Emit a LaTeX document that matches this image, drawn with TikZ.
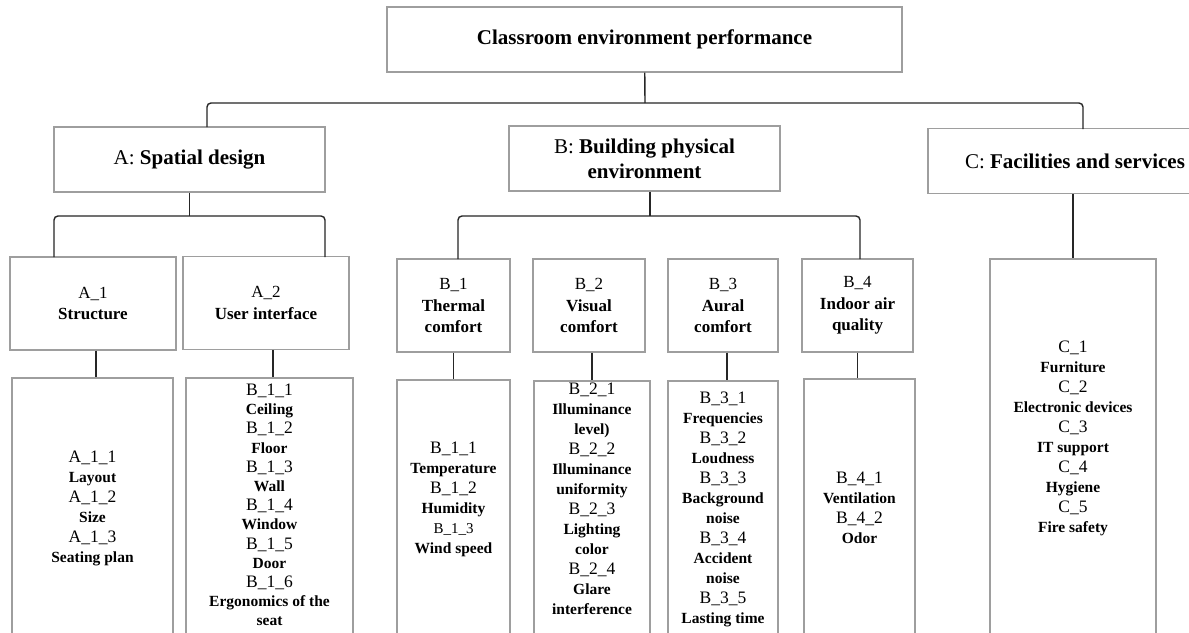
\documentclass[tikz,border=0pt]{standalone}
\usepackage{fontspec}
\setmainfont{Liberation Serif}
\usepackage{tikz}

\newcommand{\lab}[1]{{\fontsize{15.5}{20}\selectfont\bfseries #1}}

\begin{document}
\begin{tikzpicture}[
  x=1pt, y=-1pt,
  every node/.style={inner sep=0pt, align=center},
  box/.style={draw=black!38, line width=1.4pt, fill=white},
  rootbox/.style={box, minimum width=515pt, minimum height=65pt, font=\fontsize{21}{25}\selectfont\bfseries},
  cat/.style={box, minimum width=271pt, minimum height=65pt, font=\fontsize{21}{25}\selectfont},
  sub/.style={box, minimum height=93pt, font=\fontsize{17}{21.5}\selectfont},
  leaf/.style={box, minimum height=300pt},
  items/.style={font=\fontsize{17.5}{20}\selectfont},
  link/.style={draw=black!85, line width=1.4pt}]
  \useasboundingbox (0,0) rectangle (1189,632);
  \clip (0,0) rectangle (1189,632);
  \fill[white] (0,0) rectangle (1189,632);
  % root and categories
  \node[rootbox] (root) at (644.5,39.5) {Classroom environment performance};
  \node[cat] (A) at (189.5,159.5) {A: \textbf{Spatial design}};
  \node[cat] (B) at (644.5,158.5) {B: \textbf{Building physical}\\\textbf{environment}};
  \node[cat, minimum width=294pt] (C) at (1075,161) {C: \textbf{Facilities and services}};
  % sub-criteria
  \node[sub, minimum width=166pt] (A1) at (93,303.5) {A\_1\\\textbf{Structure}};
  \node[sub, minimum width=166pt] (A2) at (266,303) {A\_2\\\textbf{User interface}};
  \node[sub, minimum width=113pt] (B1) at (453.5,305.5) {B\_1\\\textbf{Thermal}\\\textbf{comfort}};
  \node[sub, minimum width=112pt] (B2) at (589,305.5) {B\_2\\\textbf{Visual}\\\textbf{comfort}};
  \node[sub, minimum width=110pt] (B3) at (723,305.5) {B\_3\\\textbf{Aural}\\\textbf{comfort}};
  \node[sub, minimum width=111pt] (B4) at (857.5,305.5) {B\_4\\\textbf{Indoor air}\\\textbf{quality}};
  % indicator boxes (cut by the lower edge)
  \node[leaf, minimum width=161pt] (A1l) at (92.5,528) {};
  \node[leaf, minimum width=167pt] (A2l) at (269.5,528) {};
  \node[leaf, minimum width=113pt] (B1l) at (453.5,530) {};
  \node[leaf, minimum width=116pt] (B2l) at (592,531) {};
  \node[leaf, minimum width=110pt] (B3l) at (723,531) {};
  \node[leaf, minimum width=111pt] (B4l) at (859.5,529) {};
  \node[leaf, minimum width=166pt, minimum height=400pt] (Cl) at (1073,459) {};
  % indicators
  \node[items] (A1t) at (92.5,508) {A\_1\_1\\\lab{Layout}\\A\_1\_2\\\lab{Size}\\A\_1\_3\\\lab{Seating plan}};
  \node[items, font=\fontsize{17.5}{19.2}\selectfont] (A2t) at (269.5,505) {B\_1\_1\\\lab{Ceiling}\\B\_1\_2\\\lab{Floor}\\B\_1\_3\\\lab{Wall}\\B\_1\_4\\\lab{Window}\\B\_1\_5\\\lab{Door}\\B\_1\_6\\\lab{Ergonomics of the}\\\lab{seat}};
  \node[items] (B1t) at (453.5,499) {B\_1\_1\\\lab{Temperature}\\B\_1\_2\\\lab{Humidity}\\{\fontsize{15}{20}\selectfont B\_1\_3}\\\lab{Wind speed}};
  \node[items] (B2t) at (592,498.5) {B\_2\_1\\\lab{Illuminance}\\\lab{level)}\\B\_2\_2\\\lab{Illuminance}\\\lab{uniformity}\\B\_2\_3\\\lab{Lighting}\\\lab{color}\\B\_2\_4\\\lab{Glare}\\\lab{interference}};
  \node[items] (B3t) at (723,509.5) {B\_3\_1\\\lab{Frequencies}\\B\_3\_2\\\lab{Loudness}\\B\_3\_3\\\lab{Background}\\\lab{noise}\\B\_3\_4\\\lab{Accident}\\\lab{noise}\\B\_3\_5\\\lab{Lasting time}};
  \node[items] (B4t) at (859.5,508) {B\_4\_1\\\lab{Ventilation}\\B\_4\_2\\\lab{Odor}};
  \node[items] (Ct) at (1073,438) {C\_1\\\lab{Furniture}\\C\_2\\\lab{Electronic devices}\\C\_3\\\lab{IT support}\\C\_4\\\lab{Hygiene}\\C\_5\\\lab{Fire safety}};
  % top bracket
  \coordinate (rootj) at (645,103);
  \coordinate (Aup) at (207,127);
  \coordinate (Cup) at (1083,129);
  \draw[link] (root) -- (rootj);
  \draw[link, rounded corners=4pt] (Aup) |- (rootj) -| (Cup);
  % A bracket
  \coordinate (Aj) at (189.5,216);
  \coordinate (A1up) at (54,257);
  \coordinate (A2up) at (325,257);
  \draw[link] (A) -- (Aj);
  \draw[link, rounded corners=4pt] (A1up) |- (Aj) -| (A2up);
  % B bracket
  \coordinate (Bj) at (650,216);
  \coordinate (B1up) at (458,259);
  \coordinate (B4up) at (860,259);
  \draw[link] (B.south -| Bj) -- (Bj);
  \draw[link, rounded corners=4pt] (B1up) |- (Bj) -| (B4up);
  % C stem
  \draw[link] (C.south -| Cl.north) -- (Cl.north);
  % stems to indicators
  \draw[link] ([xshift=3pt]A1.south) -- ([xshift=3pt]A1.south |- A1l.north);
  \draw[link] ([xshift=7pt]A2.south) -- ([xshift=7pt]A2.south |- A2l.north);
  \draw[link] (B1) -- (B1 |- B1l.north);
  \draw[link] ([xshift=3pt]B2.south) -- ([xshift=3pt]B2.south |- B2l.north);
  \draw[link] ([xshift=4pt]B3.south) -- ([xshift=4pt]B3.south |- B3l.north);
  \draw[link] (B4) -- (B4 |- B4l.north);
\end{tikzpicture}
\end{document}
